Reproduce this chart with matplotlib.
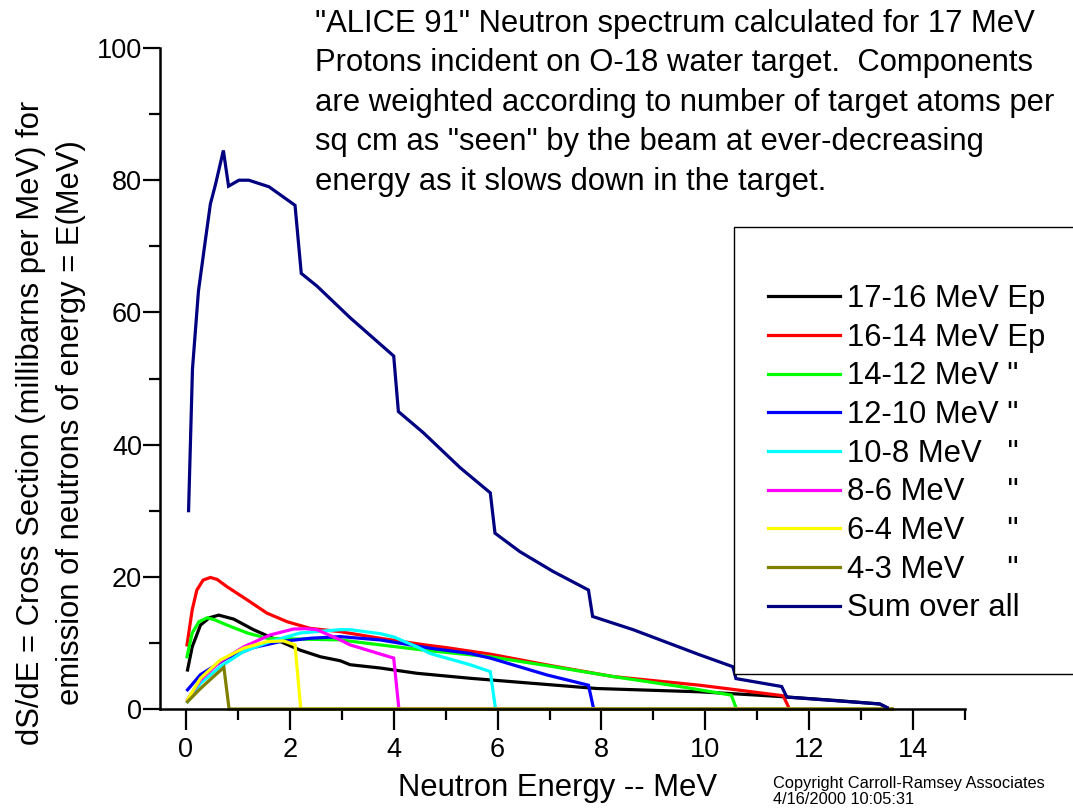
import matplotlib
matplotlib.use("Agg")
import matplotlib.pyplot as plt
from matplotlib.patches import Rectangle
from matplotlib.ticker import MultipleLocator

# ---------------- data ----------------
x_1716 = [0.03, 0.12, 0.28, 0.45, 0.63, 0.92, 1.3, 1.82, 2.2, 2.59, 2.97, 3.16, 3.74, 4.45, 5.47, 5.86,
          7.91, 9.89, 11.0, 11.6, 12.5, 13.36, 13.55]
y_1716 = [5.9, 9.4, 12.7, 13.8, 14.2, 13.6, 12.0, 10.2, 8.9, 7.9, 7.3, 6.7, 6.2, 5.4, 4.65, 4.4,
          3.1, 2.6, 2.1, 1.8, 1.3, 0.76, 0.0]

x_1614 = [0.02, 0.12, 0.21, 0.33, 0.47, 0.6, 0.79, 1.18, 1.56, 1.95, 2.39, 2.97, 3.74, 4.6, 5.0, 5.86,
          7.0, 8.23, 9.89, 10.5, 11.5, 11.62, 13.6]
y_1614 = [9.7, 15.0, 18.0, 19.5, 19.9, 19.6, 18.5, 16.5, 14.5, 13.2, 12.2, 11.7, 10.7, 9.7, 9.3, 8.3,
          6.6, 4.9, 3.6, 3.0, 2.0, 0.0, 0.0]

x_1412 = [0.02, 0.12, 0.25, 0.41, 0.55, 0.79, 1.18, 1.56, 2.07, 2.97, 3.74, 4.7, 5.86, 7.0, 8.23, 9.51,
          10.5, 10.6, 13.6]
y_1412 = [7.9, 11.5, 13.2, 13.8, 13.5, 12.7, 11.5, 10.7, 10.6, 10.45, 9.7, 8.8, 7.9, 6.5, 4.9, 3.4,
          2.1, 0.0, 0.0]

x_1210 = [0.03, 0.28, 0.79, 1.3, 1.82, 2.39, 2.97, 3.74, 4.7, 5.47, 5.86, 6.95, 7.75, 7.85, 13.6]
y_1210 = [2.9, 5.2, 7.7, 9.3, 10.2, 10.7, 10.95, 10.45, 9.2, 8.4, 7.7, 5.15, 3.6, 0.0, 0.0]

x_108 = [0.03, 0.28, 0.66, 1.11, 1.62, 2.2, 2.97, 3.16, 3.74, 4.0, 4.45, 4.7, 5.47, 5.86, 5.96, 13.6]
y_108 = [1.1, 3.9, 6.4, 8.7, 10.2, 11.5, 12.0, 12.0, 11.4, 10.9, 9.4, 8.4, 6.7, 5.65, 0.0, 0.0]

x_86 = [0.03, 0.28, 0.66, 1.11, 1.62, 2.07, 2.3, 2.52, 2.97, 3.16, 4.0, 4.1, 13.6]
y_86 = [1.4, 4.4, 7.2, 9.4, 11.2, 12.1, 12.15, 12.0, 10.45, 9.7, 7.7, 0.0, 0.0]

x_64 = [0.03, 0.28, 0.66, 1.11, 1.56, 1.88, 2.1, 2.21, 13.6]
y_64 = [1.4, 4.65, 7.4, 9.2, 10.2, 10.3, 9.7, 0.0, 0.0]

x_43 = [0.03, 0.28, 0.53, 0.73, 0.83, 13.6]
y_43 = [1.1, 3.1, 4.9, 6.3, 0.0, 0.0]

x_sum = [0.05, 0.125, 0.24, 0.375, 0.47, 0.57, 0.72, 0.82, 1.02, 1.21, 1.6, 2.1, 2.22, 2.52, 3.16,
         4.0, 4.09, 4.57, 5.28, 5.86, 5.95, 6.43, 7.07, 7.75, 7.83, 8.61, 9.89, 10.53, 10.59, 11.47,
         11.57, 13.36, 13.5]
y_sum = [30.0, 51.4, 63.2, 71.0, 76.4, 79.4, 84.5, 79.1, 80.0, 80.0, 79.0, 76.2, 65.9, 64.0, 59.2,
         53.4, 45.0, 41.8, 36.5, 32.7, 26.6, 23.8, 20.8, 18.0, 14.0, 12.0, 8.2, 6.4, 4.6, 3.4,
         1.8, 0.76, 0.2]

labels = ['17-16 MeV Ep', '16-14 MeV Ep', '14-12 MeV "', '12-10 MeV "', '10-8 MeV   "',
          '8-6 MeV     "', '6-4 MeV     "', '4-3 MeV     "', 'Sum over all']
colors = ['#000000', '#FF0000', '#00FF00', '#0000FF', '#00FFFF', '#FF00FF', '#FFFF00', '#808000', '#000080']

x_ticks = [0, 2, 4, 6, 8, 10, 12, 14]
y_ticks = [0, 20, 40, 60, 80, 100]

title_text = ('"ALICE 91" Neutron spectrum calculated for 17 MeV\n'
              'Protons incident on O-18 water target.  Components\n'
              'are weighted according to number of target atoms per\n'
              'sq cm as "seen" by the beam at ever-decreasing\n'
              'energy as it slows down in the target.')
ylabel_text = 'dS/dE = Cross Section (millibarns per MeV) for\nemission of neutrons of energy = E(MeV)'
xlabel_text = 'Neutron Energy -- MeV'
copyright_text = 'Copyright Carroll-Ramsey Associates\n4/16/2000 10:05:31'

# ---------------- figure ----------------
W, H = 1073, 808
plt.rcParams['font.family'] = ['Liberation Sans', 'DejaVu Sans']

fig = plt.figure(figsize=(W / 100, H / 100), dpi=100)
ax = fig.add_axes([160 / W, 99 / H, 805 / W, 661 / H])

series = [(x_1716, y_1716), (x_1614, y_1614), (x_1412, y_1412), (x_1210, y_1210), (x_108, y_108),
          (x_86, y_86), (x_64, y_64), (x_43, y_43), (x_sum, y_sum)]
handles = []
for (xs, ys), c, lab in zip(series, colors, labels):
    h, = ax.plot(xs, ys, color=c, lw=2.3, label=lab, solid_joinstyle='miter', clip_on=False)
    handles.append(h)

ax.set_xlim(-0.5, 15)
ax.set_ylim(0, 100)
ax.set_xticks(x_ticks)
ax.set_yticks(y_ticks)
ax.xaxis.set_minor_locator(MultipleLocator(1))
ax.yaxis.set_minor_locator(MultipleLocator(10))
for s in ['top', 'right']:
    ax.spines[s].set_visible(False)
for s in ['left', 'bottom']:
    ax.spines[s].set_linewidth(1.8)
ax.tick_params(which='major', direction='out', width=1.6, labelsize=19.5)
ax.tick_params(axis='x', which='major', length=15, pad=5)
ax.tick_params(axis='y', which='major', length=12, pad=1)
ax.tick_params(which='minor', direction='out', length=8, width=1.6)

# title block
fig.text(315 / W, 1 - 9 / H, title_text, ha='left', va='top', fontsize=22.3, linespacing=1.41)
# y label
fig.text(51 / W, 1 - 423 / H, ylabel_text, ha='center', va='center', rotation=90,
         fontsize=22.3, linespacing=1.42, multialignment='center')
# x label
fig.text(557 / W, 1 - 788 / H, xlabel_text, ha='center', va='center', fontsize=22.3)
# copyright
fig.text(773 / W, 1 - 776 / H, copyright_text, ha='left', va='top', fontsize=11.8, linespacing=1.05)

# legend box
rect = Rectangle((734 / W, 1 - 674 / H), 400 / W, 447 / H, transform=fig.transFigure,
                 facecolor='white', edgecolor='black', lw=1.0, zorder=5)
fig.add_artist(rect)
leg = fig.legend(handles=handles, labels=labels, loc='upper left',
                 bbox_to_anchor=(768 / W, 1 - 284 / H), bbox_transform=fig.transFigure,
                 frameon=False, borderpad=0, borderaxespad=0, handlelength=2.32,
                 handletextpad=0.23, labelspacing=0.28, fontsize=22.3)
leg.set_zorder(6)

fig.savefig('out.png', dpi=100)
